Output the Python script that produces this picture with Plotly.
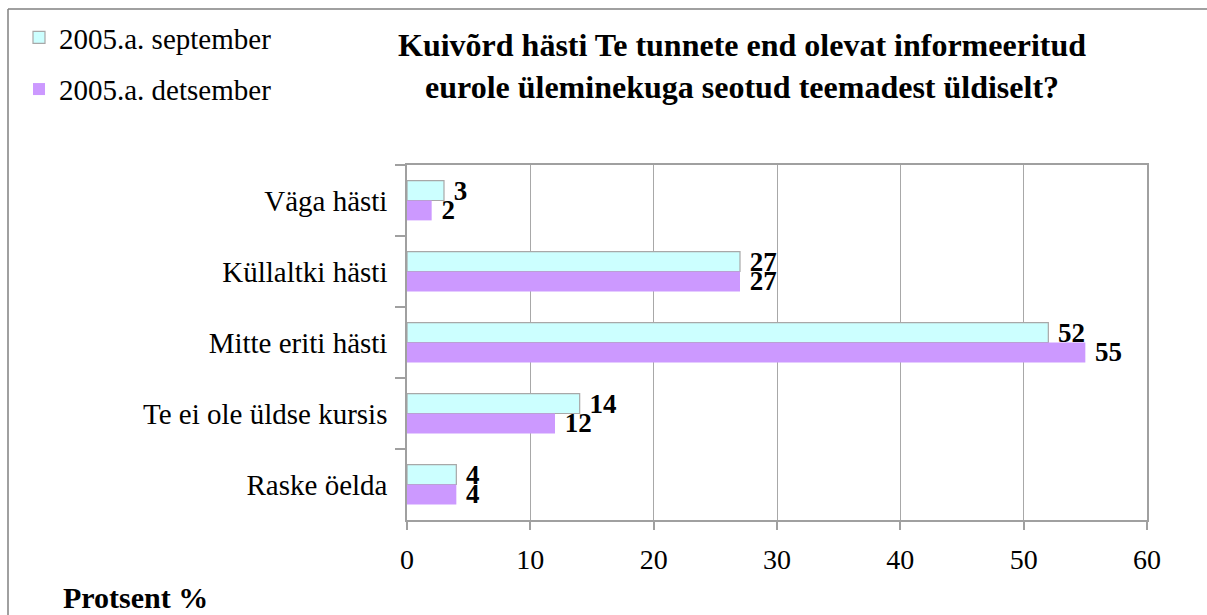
import plotly.graph_objects as go

categories = ["Väga hästi", "Küllaltki hästi", "Mitte eriti hästi", "Te ei ole üldse kursis", "Raske öelda"]
september = [3, 27, 52, 14, 4]
detsember = [2, 27, 55, 12, 4]
series_names = ["2005.a. september", "2005.a. detsember"]
title_lines = ["Kuivõrd hästi Te tunnete end olevat informeeritud",
               "eurole üleminekuga seotud teemadest üldiselt?"]
x_ticks = [0, 10, 20, 30, 40, 50, 60]

W, H = 1207, 615
L, R, T, B = 407, 1147, 165, 520

def px(x):
    return (x - L) / (R - L)

def py(y):
    return (B - y) / (B - T)

FONT = "Liberation Serif, Times New Roman, serif"
LABEL = "\u00a0%{x}"

fig = go.Figure()
fig.add_trace(go.Bar(
    y=categories, x=september, name=series_names[0], orientation="h",
    legendgroup="sep",
    marker=dict(color="#CCFFFF", line=dict(color="#A8A8A8", width=1.2)),
    texttemplate=LABEL, textposition="outside", cliponaxis=False, constraintext="none",
    textfont=dict(family=FONT, size=27, color="black", weight="bold"),
))
fig.add_trace(go.Bar(
    y=categories, x=detsember, name=series_names[1], orientation="h",
    legendgroup="dec",
    marker=dict(color="#CC99FF", line=dict(width=0)),
    texttemplate=LABEL, textposition="outside", cliponaxis=False, constraintext="none",
    textfont=dict(family=FONT, size=27, color="black", weight="bold"),
))

fig.update_layout(
    width=W, height=H,
    margin=dict(l=L, r=W - R, t=T, b=H - B),
    paper_bgcolor="white", plot_bgcolor="white",
    barmode="group", bargap=0.44, bargroupgap=0,
    font=dict(family=FONT, color="black"),
    showlegend=True,
    legend=dict(
        x=px(19), y=py(12), xanchor="left", yanchor="top",
        font=dict(family=FONT, size=29, color="black"),
        bgcolor="rgba(0,0,0,0)", tracegroupgap=11,
        traceorder="grouped",
    ),
    xaxis=dict(
        range=[0, 60], tickvals=x_ticks, ticktext=[str(v) for v in x_ticks],
        showgrid=True, gridcolor="#A8A8A8", gridwidth=1.2,
        showline=True, linecolor="#A0A0A0", linewidth=1.5, mirror=True,
        ticks="outside", ticklen=8, tickcolor="#A0A0A0", tickwidth=1.5,
        zeroline=False, ticklabelstandoff=6,
        tickfont=dict(family=FONT, size=28, color="black"),
    ),
    yaxis=dict(
        autorange="reversed", type="category",
        showline=True, linecolor="#A0A0A0", linewidth=1.5, mirror=True,
        ticks="outside", ticklen=10, tickcolor="#A0A0A0", tickwidth=1.5,
        tickson="boundaries", showgrid=False, ticklabelstandoff=12,
        tickfont=dict(family=FONT, size=29, color="black"),
    ),
)

for line, yc in zip(title_lines, [45, 87]):
    fig.add_annotation(
        xref="paper", yref="paper", x=px(742), y=py(yc),
        xanchor="center", yanchor="middle", showarrow=False,
        text=line,
        font=dict(family=FONT, size=32, color="black", weight="bold"),
    )
fig.add_annotation(
    xref="paper", yref="paper", x=px(61), y=py(597),
    xanchor="left", yanchor="middle", showarrow=False,
    text="Protsent %",
    font=dict(family=FONT, size=30, color="black", weight="bold"),
)
# outer frame (top and left edges visible in the reference)
fig.add_shape(
    type="line", xref="paper", yref="paper",
    x0=px(8), x1=px(1207), y0=py(9), y1=py(9),
    line=dict(color="#808080", width=1.5), layer="below",
)
fig.add_shape(
    type="line", xref="paper", yref="paper",
    x0=px(8), x1=px(8), y0=py(9), y1=py(615),
    line=dict(color="#808080", width=1.5), layer="below",
)

fig.write_html(
    "out.html",
    config={"displayModeBar": False},
    post_script="document.body.style.margin='0';"
                "document.body.style.overflow='hidden';"
                "document.documentElement.style.overflow='hidden';",
)
